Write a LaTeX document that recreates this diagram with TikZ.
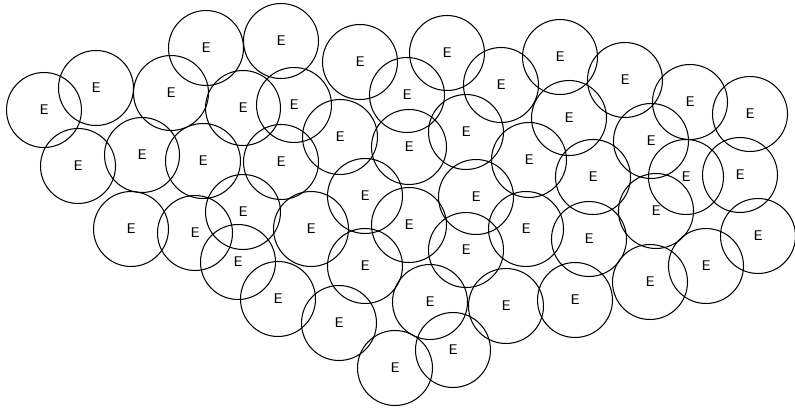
\documentclass[tikz,border=0pt]{standalone}
\usepackage{tikz}
\usetikzlibrary{positioning}

\begin{document}
\begin{tikzpicture}[
  x=0.02cm,y=-0.02cm,
  e/.style={circle,draw,line width=0.6pt,minimum size=1.5cm,inner sep=0pt,font=\sffamily\footnotesize}
]
\useasboundingbox (0,0) rectangle (795,409);
% top band
\node[e] (e1) at (206,48) {E};
\node[e] (e2) at (281,41) {E};
\node[e] (e3) at (360,62) {E};
\node[e] (e4) at (447,53) {E};
\node[e] (e5) at (560,57) {E};
\node[e] (e6) at (625,80) {E};
\node[e] (e7) at (44,110) {E};
\node[e] (e8) at (96,88) {E};
\node[e] (e9) at (171,93) {E};
\node[e] (e10) at (243,108) {E};
\node[e] (e11) at (294,105) {E};
\node[e] (e12) at (501,85) {E};
\node[e] (e13) at (407,95) {E};
\node[e] (e14) at (690,102) {E};
\node[e] (e15) at (750,114) {E};
% second band
\node[e] (e16) at (340,137) {E};
\node[e] (e17) at (409,147) {E};
\node[e] (e18) at (466,132) {E};
\node[e] (e19) at (569,118) {E};
\node[e] (e20) at (651,141) {E};
\node[e] (e21) at (78,166) {E};
\node[e] (e22) at (142,155) {E};
\node[e] (e23) at (203,161) {E};
\node[e] (e24) at (281,162) {E};
\node[e] (e25) at (529,160) {E};
\node[e] (e26) at (593,177) {E};
\node[e] (e27) at (686,177) {E};
\node[e] (e28) at (740,175) {E};
% third band
\node[e] (e29) at (365,196) {E};
\node[e] (e30) at (476,197) {E};
\node[e] (e31) at (656,211) {E};
\node[e] (e32) at (131,229) {E};
\node[e] (e33) at (195,233) {E};
\node[e] (e34) at (243,212) {E};
\node[e] (e35) at (311,229) {E};
\node[e] (e36) at (409,225) {E};
\node[e] (e37) at (526,229) {E};
\node[e] (e38) at (589,239) {E};
\node[e] (e39) at (238,262) {E};
\node[e] (e40) at (365,266) {E};
\node[e] (e41) at (466,250) {E};
\node[e] (e42) at (758,236) {E};
% bottom
\node[e] (e43) at (278,299) {E};
\node[e] (e44) at (430,302) {E};
\node[e] (e45) at (506,306) {E};
\node[e] (e46) at (575,300) {E};
\node[e] (e47) at (650,282) {E};
\node[e] (e48) at (706,266) {E};
\node[e] (e49) at (339,323) {E};
\node[e] (e50) at (453,350) {E};
\node[e] (e51) at (395,368) {E};
\end{tikzpicture}
\end{document}
